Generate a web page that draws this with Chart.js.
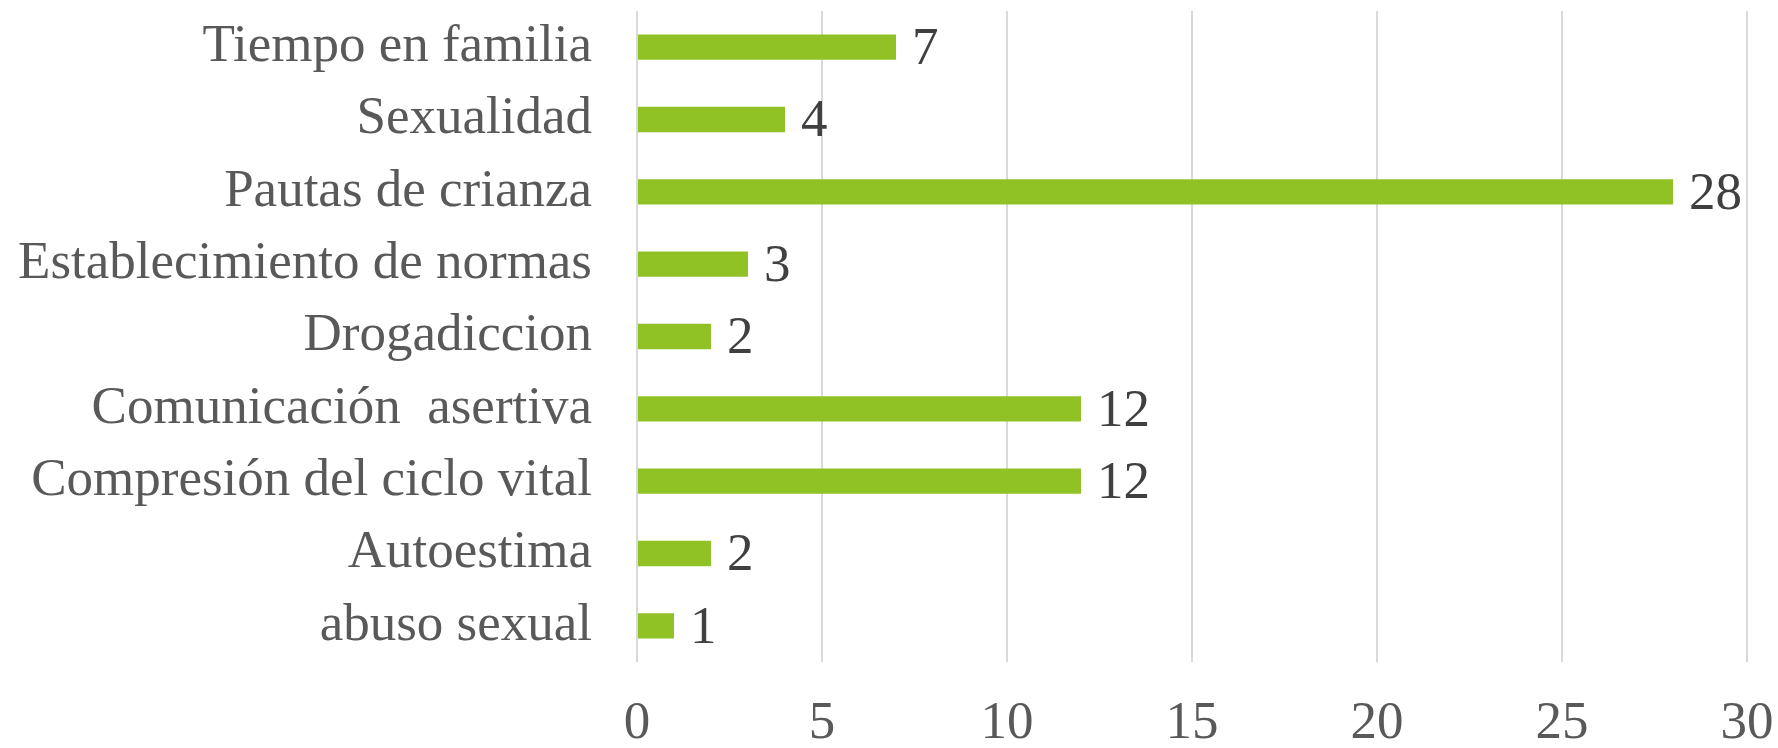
<!DOCTYPE html>
<html>
<head>
<meta charset="utf-8">
<script src="https://cdn.jsdelivr.net/npm/chart.js@4/dist/chart.umd.min.js"></script>
<style>
  html, body { margin: 0; padding: 0; background: #fff; }
  #wrap { width: 1778px; height: 748px; }
</style>
</head>
<body>
<div id="wrap"><canvas id="temasChart" width="1778" height="748"></canvas></div>
<script>
// datos del grafico
var categorias = [
    'Tiempo en familia',
    'Sexualidad',
    'Pautas de crianza',
    'Establecimiento de normas',
    'Drogadiccion',
    'Comunicación  asertiva',
    'Compresión del ciclo vital',
    'Autoestima',
    'abuso sexual'
];
var valores = [7, 4, 28, 3, 2, 12, 12, 2, 1];
var ticksX = [0, 5, 10, 15, 20, 25, 30];

var fuente = "'Liberation Serif', 'Times New Roman', serif";

// etiquetas de valor a la derecha de cada barra
var etiquetasValor = {
    id: 'etiquetasValor',
    afterDatasetsDraw: function(chart) {
        var ctx = chart.ctx;
        var meta = chart.getDatasetMeta(0);
        ctx.save();
        ctx.font = '53px ' + fuente;
        ctx.fillStyle = '#404040';
        ctx.textAlign = 'left';
        ctx.textBaseline = 'middle';
        meta.data.forEach(function(bar, i) {
            ctx.fillText(String(valores[i]), bar.x + 16, bar.y + 3);
        });
        ctx.restore();
    }
};

var ctx = document.getElementById('temasChart').getContext('2d');
var temasChart = new Chart(ctx, {
    type: 'bar',
    data: {
        labels: categorias,
        datasets: [{
            data: valores,
            backgroundColor: '#90c226',
            barPercentage: 0.7,
            categoryPercentage: 0.5
        }]
    },
    options: {
        indexAxis: 'y',
        responsive: false,
        animation: false,
        maintainAspectRatio: false,
        layout: {
            padding: { top: 11, right: 31, bottom: 0, left: 0 }
        },
        plugins: {
            legend: { display: false },
            tooltip: { enabled: false }
        },
        scales: {
            x: {
                min: 0,
                max: 30,
                afterBuildTicks: function(scale) {
                    scale.ticks = ticksX.map(function(v) { return { value: v }; });
                },
                afterFit: function(scale) {
                    scale.height = 86;
                    scale.paddingLeft = 0;
                    scale.paddingRight = 0;
                },
                grid: { color: '#d9d9d9', lineWidth: 2, drawTicks: false },
                border: { display: false },
                ticks: {
                    padding: 36,
                    color: '#595959',
                    maxRotation: 0,
                    font: { family: fuente, size: 53, lineHeight: 1 }
                }
            },
            y: {
                afterFit: function(scale) {
                    scale.width = 637;
                    scale.paddingTop = 0;
                    scale.paddingBottom = 0;
                },
                grid: { display: false, drawTicks: false },
                border: { display: false },
                ticks: {
                    padding: 45,
                    color: '#595959',
                    font: { family: fuente, size: 53, lineHeight: 1 }
                }
            }
        }
    },
    plugins: [etiquetasValor]
});
</script>
</body>
</html>
